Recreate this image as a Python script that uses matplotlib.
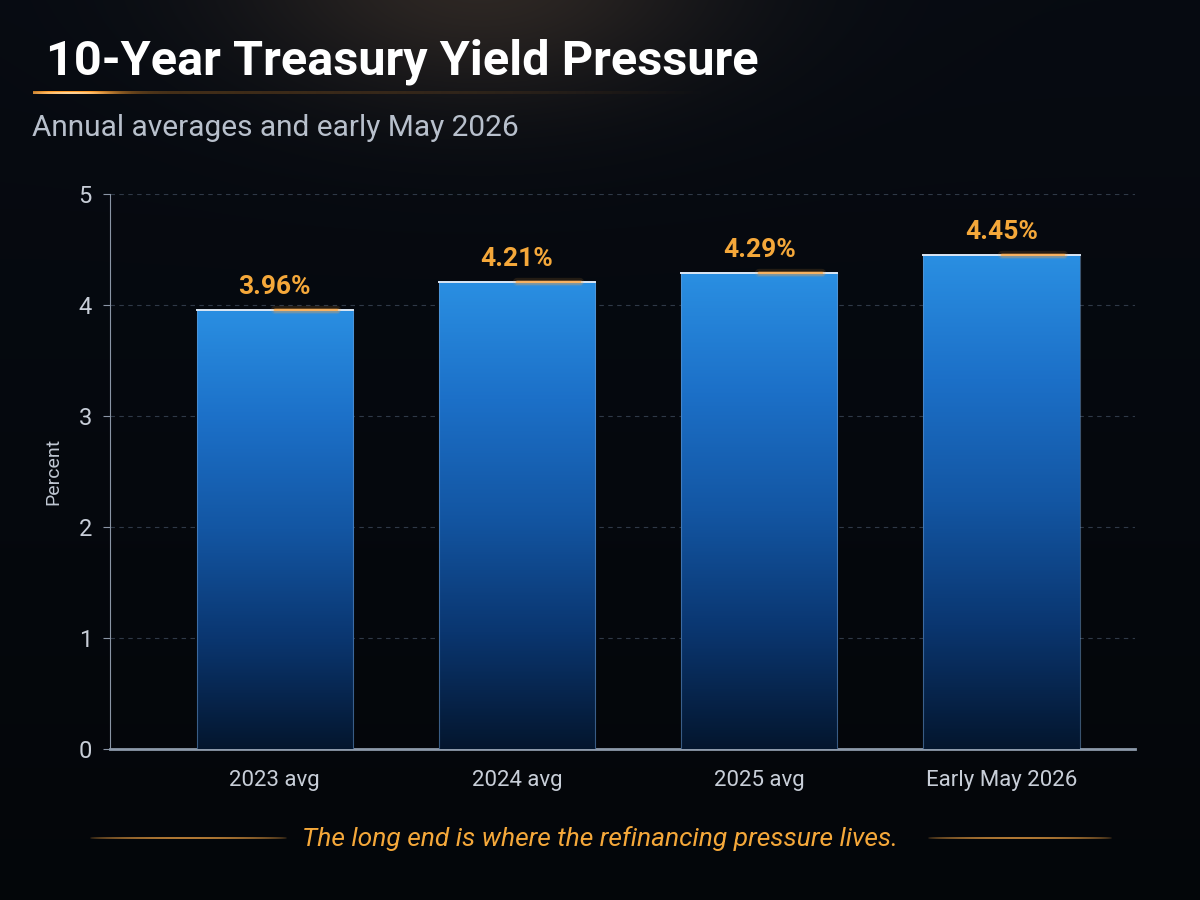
import numpy as np
import matplotlib.pyplot as plt
from matplotlib.colors import LinearSegmentedColormap, to_rgb

# data
categories = ['2023 avg', '2024 avg', '2025 avg', 'Early May 2026']
yields = [3.96, 4.21, 4.29, 4.45]
labels = ['3.96%', '4.21%', '4.29%', '4.45%']
yticks = [0, 1, 2, 3, 4, 5]

title = '10-Year Treasury Yield Pressure'
subtitle = 'Annual averages and early May 2026'
caption = 'The long end is where the refinancing pressure lives.'

orange = '#f5a83a'
plt.rcParams['font.family'] = ['Roboto', 'DejaVu Sans']

fig = plt.figure(figsize=(12, 9), dpi=100)

# background with a warm glow near the top
bg = fig.add_axes([0, 0, 1, 1])
bg.set_axis_off()
yy, xx = np.mgrid[0:900, 0:1200]
base = np.zeros((900, 1200, 3))
base[..., 0] = 0.027
base[..., 1] = 0.043
base[..., 2] = 0.070
vert = np.clip(1 - yy / 900, 0, 1)[..., None]
base = base * (0.55 + 0.45 * vert)
glow = np.exp(-(((xx - 480) / 240.0) ** 2 + ((yy + 20) / 120.0) ** 2))[..., None]
base = base + glow * np.array([0.15, 0.11, 0.07])
bg.imshow(np.clip(base, 0, 1), extent=[0, 1200, 900, 0], aspect='auto', zorder=0)
bg.set_xlim(0, 1200)
bg.set_ylim(900, 0)


def faded_strip(x0, x1, y, alpha_fn, color, thick):
    # thin horizontal rule drawn as an image so the fade is smooth
    px = np.linspace(x0, x1, 600)
    rgba = np.zeros((1, len(px), 4))
    rgba[0, :, :3] = to_rgb(color)
    rgba[0, :, 3] = np.clip(alpha_fn(px), 0, 1)
    bg.imshow(rgba, extent=[x0, x1, y + thick / 2, y - thick / 2], aspect='auto',
              interpolation='bilinear', zorder=1)


# title underline with orange glow
faded_strip(33, 720, 93, lambda v: 0.3 * (1 - (v - 33) / 687) + 0.9 * np.exp(-((v - 70) / 45.0) ** 2), '#ff9c2a', 3)
faded_strip(33, 720, 93, lambda v: 0.9 * np.exp(-((v - 70) / 30.0) ** 2), '#ffd8a0', 1.2)

fig.text(0.038, 0.931, title, color='white', fontsize=35, fontweight='bold', va='center', ha='left')
fig.text(0.027, 0.858, subtitle, color='#b8c0cc', fontsize=21.5, va='center', ha='left')

ax = fig.add_axes([0.0917, 0.168, 0.854, 0.616])
ax.set_facecolor('none')
x = np.arange(len(categories))
bars = ax.bar(x, yields, width=0.645, color='none', edgecolor='none', zorder=3)

cmap = LinearSegmentedColormap.from_list('barblue', ['#04162e', '#0a3670', '#1356a3', '#1c70c8', '#2a8fe2'])
grad = np.linspace(0, 1, 256).reshape(-1, 1)
for b in bars:
    x0, w, h = b.get_x(), b.get_width(), b.get_height()
    im = ax.imshow(grad, cmap=cmap, origin='lower', extent=[x0, x0 + w, 0, h],
                   aspect='auto', zorder=3, interpolation='bicubic')
    im.set_clip_path(b)
    ax.plot([x0, x0], [0, h], color='#6f9fd4', lw=0.8, alpha=0.5, zorder=4)
    ax.plot([x0 + w, x0 + w], [0, h], color='#6f9fd4', lw=0.8, alpha=0.5, zorder=4)
    ax.plot([x0, x0 + w], [h, h], color='#dce8f5', lw=1.4, zorder=5)
    # orange glint on the top edge
    for lw_, al in [(6, 0.12), (3.5, 0.25), (1.6, 0.7)]:
        ax.plot([x0 + w * 0.5, x0 + w * 0.9], [h, h], color='#ffa640', lw=lw_, alpha=al,
                zorder=6, solid_capstyle='round')

for xi, v, lab in zip(x, yields, labels):
    ax.text(xi, v + 0.1, lab, ha='center', va='bottom', color=orange, fontsize=19,
            fontweight='bold', zorder=7)

ax.set_xlim(-0.68, 3.55)
ax.set_ylim(0, 5)
ax.set_yticks(yticks)
ax.set_xticks(x)
ax.set_xticklabels(categories)
ax.tick_params(axis='x', length=0, pad=15, labelsize=16, labelcolor='#c8ced8')
ax.tick_params(axis='y', length=5, width=0.8, color='#8a95a5', pad=8, labelsize=17, labelcolor='#c8ced8')
ax.grid(axis='y', color='#3a4656', linestyle=(0, (4, 4)), lw=0.8, alpha=0.8, zorder=0)
ax.set_axisbelow(True)
ax.set_ylabel('Percent', color='#c0c7d2', fontsize=14, labelpad=12)
for s in ['top', 'right']:
    ax.spines[s].set_visible(False)
ax.spines['left'].set_color('#8a95a5')
ax.spines['left'].set_linewidth(0.8)
ax.spines['bottom'].set_color('#8d9aab')
ax.spines['bottom'].set_linewidth(2)

# caption with side rules
fig.text(0.5, 0.068, caption, color=orange, fontsize=19, style='italic', ha='center', va='center')
for xs in [(90, 287), (928, 1112)]:
    faded_strip(xs[0], xs[1], 838,
                lambda v, a=xs[0], b=xs[1]: 0.85 * np.sin(np.pi * (v - a) / (b - a)) ** 0.4,
                '#d08d3c', 1.6)

fig.savefig('out.png', dpi=100, facecolor='#05080e')
